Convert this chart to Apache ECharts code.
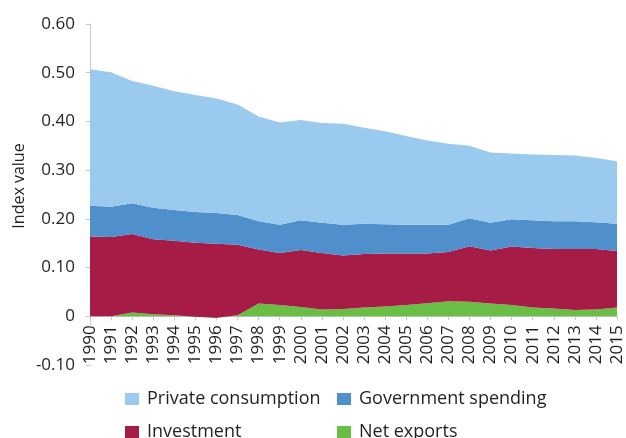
<!DOCTYPE html>
<html>
<head>
<meta charset="utf-8">
<script src="https://cdn.jsdelivr.net/npm/echarts@6/dist/echarts.min.js"></script>
<style>
html, body { margin: 0; padding: 0; background: #fff; }
#main { width: 626px; height: 438px; }
</style>
</head>
<body>
<div id="main"></div>
<script>
var years = ['1990','1991','1992','1993','1994','1995','1996','1997','1998','1999','2000','2001','2002',
             '2003','2004','2005','2006','2007','2008','2009','2010','2011','2012','2013','2014','2015'];
var netExports = [0.000,0.000,0.008,0.004,0.002,-0.001,-0.003,0.002,0.026,0.023,0.019,0.014,0.015,
                  0.018,0.020,0.023,0.027,0.031,0.030,0.026,0.023,0.018,0.016,0.013,0.014,0.018];
var investment = [0.164,0.163,0.161,0.154,0.153,0.152,0.152,0.145,0.111,0.107,0.117,0.116,0.110,
                  0.110,0.109,0.106,0.102,0.101,0.114,0.109,0.120,0.122,0.122,0.125,0.124,0.116];
var government = [0.063,0.062,0.063,0.065,0.063,0.063,0.063,0.061,0.058,0.058,0.061,0.062,0.063,
                  0.062,0.060,0.059,0.059,0.056,0.057,0.057,0.056,0.057,0.057,0.057,0.055,0.056];
var privateCons = [0.280,0.276,0.251,0.250,0.244,0.240,0.235,0.227,0.215,0.210,0.206,0.205,0.207,
                   0.197,0.191,0.182,0.173,0.166,0.149,0.144,0.135,0.135,0.136,0.135,0.132,0.128];
var yTicks = [-0.1, 0, 0.1, 0.2, 0.3, 0.4, 0.5, 0.6];

var font = 'Open Sans';
var textColor = '#231f20';

var gridTop = 24, gridBottom = 73, chartH = 438;
// distance from the bottom of the grid (-0.10) up to the zero line
var zeroOffset = (chartH - gridTop - gridBottom) * (0 - yTicks[0]) / (yTicks[yTicks.length - 1] - yTicks[0]);

var myChart = echarts.init(document.getElementById('main'));

function areaSeries(name, data, color) {
    return {
        name: name,
        type: 'line',
        stack: 'total',
        stackStrategy: 'all',
        data: data,
        showSymbol: false,
        symbol: 'none',
        lineStyle: { width: 0 },
        itemStyle: { color: color },
        areaStyle: { color: color, opacity: 1 }
    };
}

function legendAt(name, left, top) {
    return {
        data: [name],
        left: left,
        top: top,
        padding: 0,
        icon: 'rect',
        itemWidth: 14,
        itemHeight: 12,
        textStyle: { fontFamily: font, fontSize: 18, color: textColor, padding: [0, 0, 0, 3] }
    };
}

var option = {
    animation: false,
    grid: { left: 90, right: 9, top: gridTop, bottom: gridBottom },
    legend: [
        legendAt('Private consumption', 125, 390),
        legendAt('Government spending', 337, 390),
        legendAt('Investment', 125, 423),
        legendAt('Net exports', 337, 423)
    ],
    graphic: [{
        type: 'text',
        x: 19,
        y: 186,
        rotation: Math.PI / 2,
        style: {
            text: 'Index value',
            fontFamily: font,
            fontSize: 16,
            fill: textColor,
            align: 'center',
            verticalAlign: 'middle'
        }
    }],
    xAxis: {
        type: 'category',
        data: years,
        boundaryGap: false,
        offset: -zeroOffset,
        axisLine: { onZero: false, lineStyle: { color: '#c8c8c8' } },
        axisTick: { show: true, length: 4, alignWithLabel: true, lineStyle: { color: '#c8c8c8' } },
        axisLabel: {
            rotate: 90, interval: 0, margin: 9,
            fontFamily: font, fontSize: 17, color: textColor,
            backgroundColor: '#fff'
        }
    },
    yAxis: {
        type: 'value',
        min: yTicks[0],
        max: yTicks[yTicks.length - 1],
        interval: 0.1,
        splitLine: { show: false },
        axisLine: { show: true, lineStyle: { color: '#c8c8c8' } },
        axisTick: { show: true, length: 4, lineStyle: { color: '#c8c8c8' } },
        axisLabel: {
            margin: 15,
            fontFamily: font,
            fontSize: 17,
            color: textColor,
            formatter: function (v) {
                if (Math.abs(v) < 1e-9) return '0';
                return v.toFixed(2);
            }
        }
    },
    series: [
        areaSeries('Net exports', netExports, '#6bbe45'),
        areaSeries('Investment', investment, '#a61c46'),
        areaSeries('Government spending', government, '#4e8fcc'),
        areaSeries('Private consumption', privateCons, '#9acaed')
    ]
};

myChart.setOption(option);
</script>
</body>
</html>
